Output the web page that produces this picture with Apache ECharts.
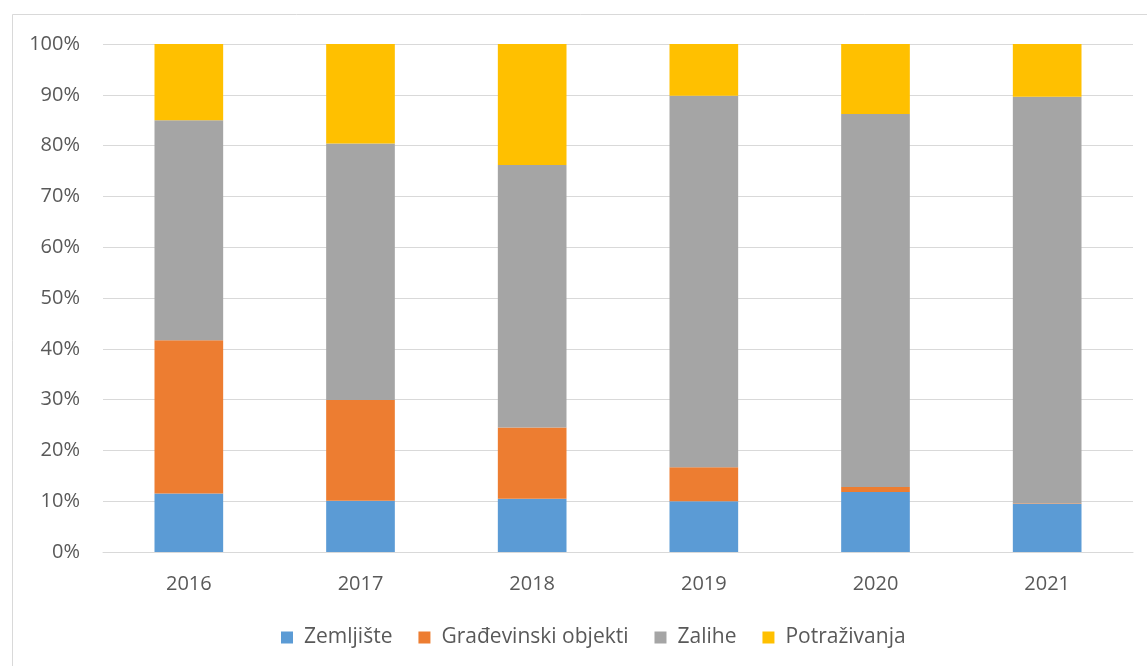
<!DOCTYPE html>
<html>
<head>
<meta charset="utf-8">
<script src="https://cdn.jsdelivr.net/npm/echarts@6/dist/echarts.min.js"></script>
<style>
  html, body { margin: 0; padding: 0; background: #fff; }
  #main { width: 1147px; height: 666px; }
</style>
</head>
<body>
<div id="main"></div>
<script>
var myChart = echarts.init(document.getElementById('main'));

var years = ['2016', '2017', '2018', '2019', '2020', '2021'];
var zemljiste = [11.5, 10.1, 10.5, 10.0, 11.8, 9.5];
var gradevinski = [30.2, 19.8, 14.0, 6.7, 1.0, 0.1];
var zalihe = [43.3, 50.5, 51.7, 73.1, 73.4, 80.0];
var potrazivanja = [15.0, 19.6, 23.8, 10.2, 13.8, 10.4];

var names = ['Zemljište', 'Građevinski objekti', 'Zalihe', 'Potraživanja'];
var colors = ['#5b9bd5', '#ed7d31', '#a5a5a5', '#ffc000'];
var values = [zemljiste, gradevinski, zalihe, potrazivanja];

var series = [];
for (var i = 0; i < names.length; i++) {
    series.push({
        name: names[i],
        type: 'bar',
        stack: 'total',
        barWidth: '40%',
        itemStyle: { color: colors[i] },
        data: values[i]
    });
}

var option = {
    backgroundColor: '#fff',
    animation: false,
    textStyle: { fontFamily: 'Open Sans' },
    graphic: [{
        type: 'rect',
        left: 10, top: 12,
        shape: { width: 1160, height: 680 },
        style: { fill: 'none', stroke: '#d9d9d9', lineWidth: 1 },
        silent: true
    }],
    grid: { left: 103, right: 14, top: 44, bottom: 114, containLabel: false },
    legend: {
        top: 622,
        left: 276,
        itemWidth: 12,
        itemHeight: 12,
        itemGap: 26,
        icon: 'rect',
        textStyle: { fontSize: 21, color: '#595959', fontFamily: 'Open Sans', padding: [0, 0, 0, 6] },
        data: names
    },
    xAxis: {
        type: 'category',
        data: years,
        axisLine: { lineStyle: { color: '#d9d9d9', width: 1 } },
        axisTick: { show: false },
        axisLabel: { fontSize: 20, color: '#595959', margin: 22 }
    },
    yAxis: {
        type: 'value',
        min: 0,
        max: 100,
        interval: 10,
        axisLine: { show: false },
        axisTick: { show: false },
        splitLine: { lineStyle: { color: '#d9d9d9', width: 1 } },
        axisLabel: { fontSize: 20, color: '#595959', margin: 23, formatter: '{value}%' }
    },
    series: series
};
myChart.setOption(option);
</script>
</body>
</html>
